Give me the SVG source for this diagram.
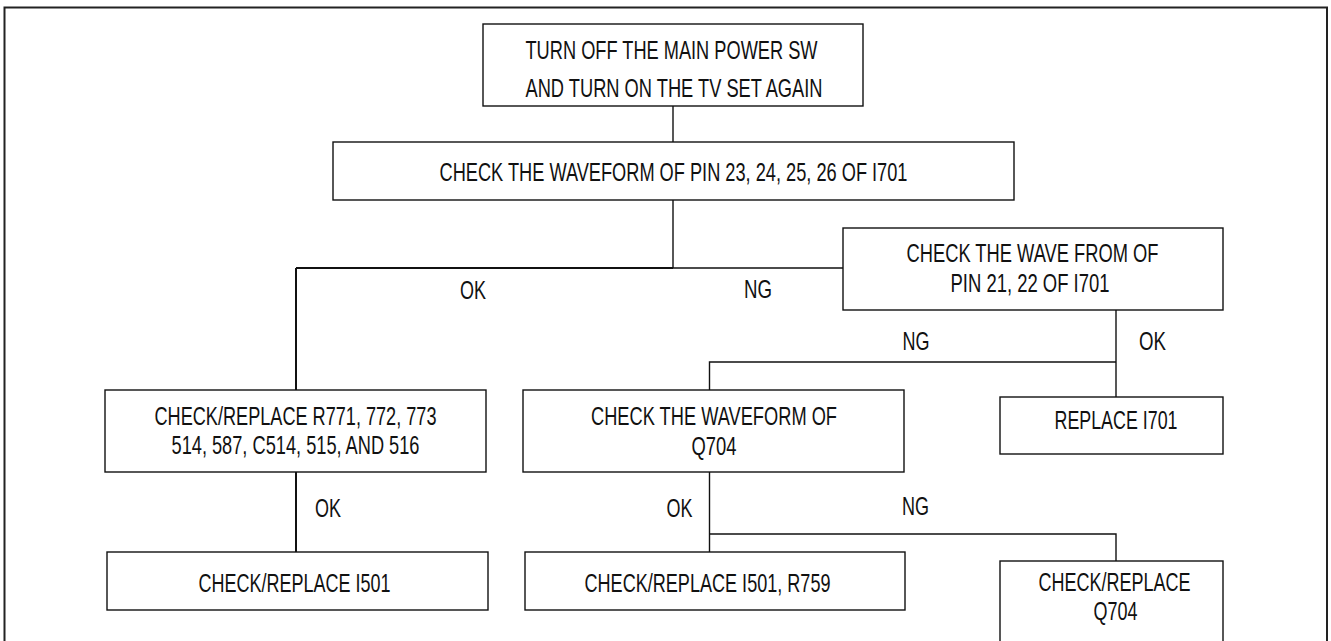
<svg xmlns="http://www.w3.org/2000/svg" width="1331" height="641" viewBox="0 0 1331 641">
<style>
.frame{fill:none;stroke:#222;stroke-width:2}
.box rect{fill:#fff;stroke:#111;stroke-width:1.4}
text{font-family:"Liberation Sans",Arial,sans-serif;font-size:25px;fill:#111;text-anchor:middle}
.c{fill:none;stroke:#111;stroke-width:1.4}
.c2{fill:none;stroke:#111;stroke-width:2}
</style>
<rect width="1331" height="641" fill="#fff"/>
<path class="frame" d="M4.5,645 V7.5 H1327 V645"/>
<g id="connectors">
<line class="c" x1="673" y1="106" x2="673" y2="142"/>
<polyline class="c" points="673,200 673,268 843,268"/>
<line class="c2" x1="673" y1="268" x2="296" y2="268"/>
<line class="c2" x1="296" y1="268" x2="296" y2="390"/>
<line class="c2" x1="296" y1="472" x2="296" y2="552"/>
<line class="c" x1="1116" y1="310" x2="1116" y2="397"/>
<polyline class="c" points="1116,362 709.5,362 709.5,390"/>
<line class="c" x1="709.5" y1="472" x2="709.5" y2="552"/>
<polyline class="c" points="709.5,534 1116,534 1116,561"/>
<text x="473" y="299" textLength="26" lengthAdjust="spacingAndGlyphs">OK</text>
<text x="758" y="298" textLength="28" lengthAdjust="spacingAndGlyphs">NG</text>
<text x="916" y="350" textLength="27" lengthAdjust="spacingAndGlyphs">NG</text>
<text x="1152.5" y="350" textLength="27" lengthAdjust="spacingAndGlyphs">OK</text>
<text x="328" y="517" textLength="26" lengthAdjust="spacingAndGlyphs">OK</text>
<text x="679.5" y="517" textLength="26" lengthAdjust="spacingAndGlyphs">OK</text>
<text x="915.5" y="515" textLength="27" lengthAdjust="spacingAndGlyphs">NG</text>
</g>
<g id="n1" class="box">
<rect x="483" y="24" width="380" height="82"/>
<text x="671.5" y="58.5" textLength="292" lengthAdjust="spacingAndGlyphs">TURN OFF THE MAIN POWER SW</text>
<text x="674" y="97" textLength="297" lengthAdjust="spacingAndGlyphs">AND TURN ON THE TV SET AGAIN</text>
</g>
<g id="n2" class="box">
<rect x="333" y="142" width="681" height="58"/>
<text x="673.5" y="181" textLength="468" lengthAdjust="spacingAndGlyphs">CHECK THE WAVEFORM OF PIN 23, 24, 25, 26 OF I701</text>
</g>
<g id="n3" class="box">
<rect x="843" y="228" width="380" height="82"/>
<text x="1032.5" y="261.5" textLength="252" lengthAdjust="spacingAndGlyphs">CHECK THE WAVE FROM OF</text>
<text x="1030" y="291.5" textLength="159" lengthAdjust="spacingAndGlyphs">PIN 21, 22 OF I701</text>
</g>
<g id="n4" class="box">
<rect x="105" y="390" width="381" height="82"/>
<text x="295.5" y="425" textLength="282" lengthAdjust="spacingAndGlyphs">CHECK/REPLACE R771, 772, 773</text>
<text x="295.5" y="454" textLength="248" lengthAdjust="spacingAndGlyphs">514, 587, C514, 515, AND 516</text>
</g>
<g id="n5" class="box">
<rect x="523" y="390" width="381" height="82"/>
<text x="714" y="425" textLength="246" lengthAdjust="spacingAndGlyphs">CHECK THE WAVEFORM OF</text>
<text x="714" y="455" textLength="45" lengthAdjust="spacingAndGlyphs">Q704</text>
</g>
<g id="n6" class="box">
<rect x="1000" y="397" width="223" height="57"/>
<text x="1116" y="428.5" textLength="123" lengthAdjust="spacingAndGlyphs">REPLACE I701</text>
</g>
<g id="n7" class="box">
<rect x="107" y="552" width="381" height="58"/>
<text x="294.5" y="591.5" textLength="192" lengthAdjust="spacingAndGlyphs">CHECK/REPLACE I501</text>
</g>
<g id="n8" class="box">
<rect x="525" y="552" width="380" height="58"/>
<text x="707.5" y="591.5" textLength="246" lengthAdjust="spacingAndGlyphs">CHECK/REPLACE I501, R759</text>
</g>
<g id="n9" class="box">
<rect x="1000" y="561" width="223" height="90"/>
<text x="1114.5" y="590.5" textLength="152" lengthAdjust="spacingAndGlyphs">CHECK/REPLACE</text>
<text x="1115.5" y="620" textLength="44" lengthAdjust="spacingAndGlyphs">Q704</text>
</g>
</svg>
